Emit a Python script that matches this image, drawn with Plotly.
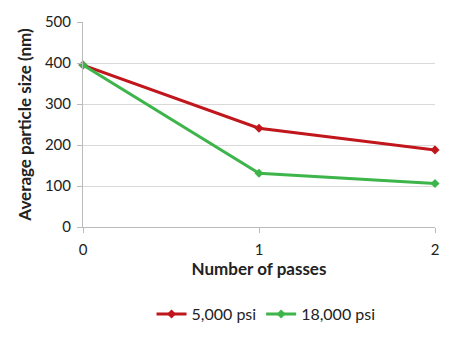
import plotly.graph_objects as go

passes = [0, 1, 2]
psi_5000 = [395, 241, 188]
psi_18000 = [395, 131, 106]
series_names = ["5,000 psi", "18,000 psi"]
colors = ["#C0161C", "#3DB54A"]

fig = go.Figure()
for name, vals, c in zip(series_names, [psi_5000, psi_18000], colors):
    fig.add_trace(go.Scatter(
        x=passes, y=vals, name=name, mode="lines+markers",
        line=dict(color=c, width=3),
        marker=dict(symbol="diamond", size=7, color=c),
        cliponaxis=False,
    ))

font = "Lato, 'Open Sans', sans-serif"
fig.update_layout(
    width=464, height=348,
    margin=dict(l=83, r=29, t=16, b=121),
    paper_bgcolor="white", plot_bgcolor="white",
    font=dict(family=font, size=15, color="#222"),
    showlegend=True,
    legend=dict(orientation="h", x=0.52, xanchor="center", y=-0.425, yanchor="middle",
                font=dict(size=16), itemwidth=30, tracegroupgap=0),
    xaxis=dict(
        range=[0, 2], tickvals=passes, ticktext=[str(p) for p in passes],
        showgrid=False, showline=True, linecolor="#BBBBBB", linewidth=1,
        ticks="outside", ticklen=5, tickcolor="#BBBBBB", ticklabelstandoff=4,
        tickfont=dict(size=15), zeroline=False,
        title=dict(text="<b>Number of passes</b>", font=dict(size=17), standoff=6),
    ),
    yaxis=dict(
        range=[0, 500], dtick=100, showgrid=True, gridcolor="#D9D9D9",
        showline=True, linecolor="#BBBBBB", linewidth=1,
        ticks="outside", ticklen=5, tickcolor="#BBBBBB", ticklabelstandoff=3,
        tickfont=dict(size=15), zeroline=False,
        title=dict(text="<b>Average particle size (nm)</b>", font=dict(size=17), standoff=8),
    ),
)

fig.write_html("out.html")
